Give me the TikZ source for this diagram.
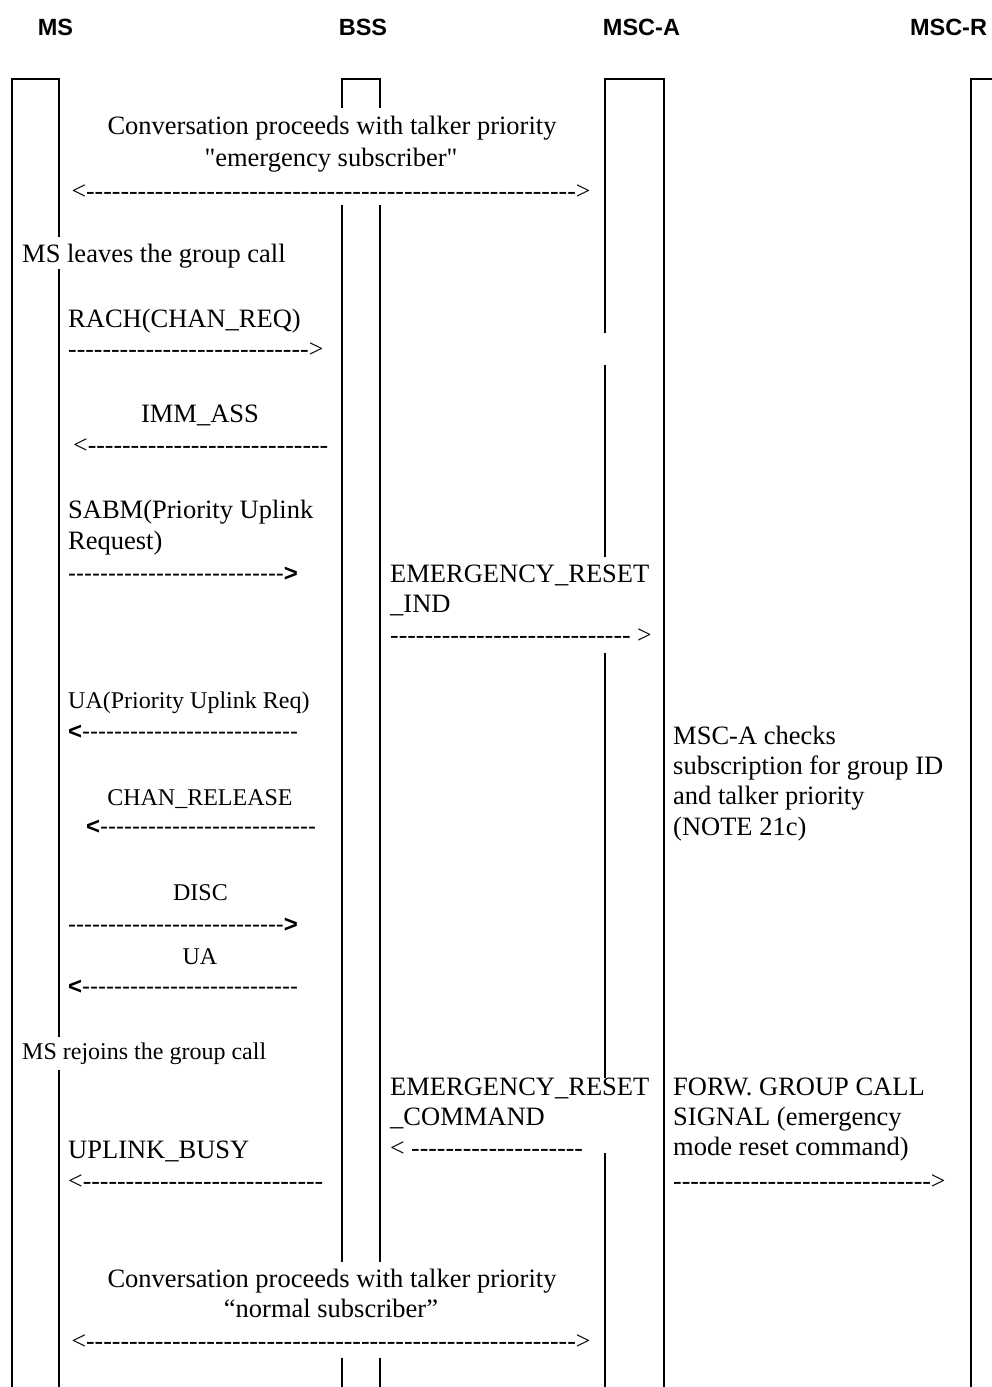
\documentclass[tikz,border=0pt]{standalone}
\usepackage{fontspec}
\setmainfont{Liberation Serif}[Ligatures=TeXOff]
\setsansfont{Liberation Sans}[Ligatures=TeXOff]
\ExplSyntaxOn
\NewDocumentCommand\hy{m}{\prg_replicate:nn{#1}{-\kern0pt}}
\ExplSyntaxOff
\tikzset{
  life/.style={line width=1.3pt, line join=miter},
  hdr/.style={font=\sffamily\bfseries\fontsize{23.5}{28}\selectfont, inner sep=0pt, anchor=base},
  lbl/.style={font=\fontsize{26.5}{31}\selectfont, inner sep=0pt, anchor=base west},
  lblc/.style={lbl, anchor=base},
  slbl/.style={font=\fontsize{24}{28}\selectfont, inner sep=0pt, anchor=base west},
  slblc/.style={slbl, anchor=base},
  msg/.style={font=\fontsize{25.8}{30}\selectfont, inner sep=0pt, anchor=base west},
  smsg/.style={font=\sffamily\fontsize{24}{28}\selectfont, inner sep=0pt, anchor=base west},
}
\begin{document}
\begin{tikzpicture}[x=1pt, y=-1pt]
\useasboundingbox (0,0) rectangle (991,1387);
% lifelines
\draw[life] (12,1390) -- (12,79) -- (59,79) -- (59,237);
\draw[life] (59,269) -- (59,1037);
\draw[life] (59,1070) -- (59,1390);
\draw[life] (342,108) -- (342,79) -- (380,79) -- (380,108);
\draw[life] (342,205) -- (342,1262);
\draw[life] (380,205) -- (380,1262);
\draw[life] (342,1358) -- (342,1390);
\draw[life] (380,1358) -- (380,1390);
\draw[life] (605,333) -- (605,79) -- (664,79) -- (664,1390);
\draw[life] (605,365) -- (605,557);
\draw[life] (605,653) -- (605,1078);
\draw[life] (605,1153) -- (605,1390);
\draw[life] (971,1390) -- (971,79) -- (995,79);
% headers
\node[hdr] (hMS) at (55.5,35) {MS};
\node[hdr] (hBSS) at (363,35) {BSS};
\node[hdr] (hA) at (641.5,35) {MSC-A};
\node[hdr] (hR) at (948.5,35) {MSC-R};
% conversation 1
\node[lblc] (c1a) at (332,134) {Conversation proceeds with talker priority};
\node[lblc] (c1b) at (331,166) {"emergency subscriber"};
\node[msg, anchor=base] (a1) at (331,199) {<\hy{57}>};
% leave
\node[lbl] (t2) at (22,262) {MS leaves the group call};
\node[lbl] (t3) at (68,327) {RACH(CHAN\_REQ)};
\node[msg] (a2) at (68,357.5) {\hy{28}>};
\node[lblc] (t4) at (200,422) {IMM\_ASS};
\node[msg] (a3) at (73,453) {<\hy{28}};
\node[lbl] (t5a) at (68,518) {SABM(Priority Uplink};
\node[lbl] (t5b) at (68,549) {Request)};
\node[smsg] (a4) at (68,581) {\hy{27}\textbf{>}};
\node[lbl] (t6a) at (390,582) {EMERGENCY\_RESET};
\node[lbl] (t6b) at (390,612) {\_IND};
\node[msg] (a5) at (390,643) {\hy{28}\ >};
\node[slbl] (t7) at (68,708) {UA(Priority Uplink Req)};
\node[smsg] (a6) at (68,739) {\textbf{<}\hy{27}};
\node[slblc] (t8) at (200,805) {CHAN\_RELEASE};
\node[smsg] (a7) at (86,834.5) {\textbf{<}\hy{27}};
\node[slblc] (t9) at (200.5,900) {DISC};
\node[smsg] (a8) at (68,932) {\hy{27}\textbf{>}};
\node[slblc] (t10) at (200,964) {UA};
\node[smsg] (a9) at (68,994.5) {\textbf{<}\hy{27}};
% MSC-A check
\node[lbl] (n1a) at (673,744) {MSC-A checks};
\node[lbl] (n1b) at (673,774) {subscription for group ID};
\node[lbl] (n1c) at (673,804) {and talker priority};
\node[lbl] (n1d) at (673,835) {(NOTE 21c)};
% rejoin
\node[slbl] (t12) at (22,1059) {MS rejoins the group call};
\node[lbl] (t13a) at (390,1095) {EMERGENCY\_RESET};
\node[lbl] (t13b) at (390,1125) {\_COMMAND};
\node[msg] (a10) at (390,1156.5) {< \hy{20}};
\node[lbl] (f1) at (673,1095) {FORW. GROUP CALL};
\node[lbl] (f2) at (673,1125) {SIGNAL (emergency};
\node[lbl] (f3) at (673,1155) {mode reset command)};
\node[msg] (a11) at (673,1189.5) {\hy{30}>};
\node[lbl] (t14) at (68,1158) {UPLINK\_BUSY};
\node[msg] (a12) at (68,1189.5) {<\hy{28}};
% conversation 2
\node[lblc] (c2a) at (332,1287) {Conversation proceeds with talker priority};
\node[lblc] (c2b) at (331,1317) {“normal subscriber”};
\node[msg, anchor=base] (a13) at (331,1349) {<\hy{57}>};
\end{tikzpicture}
\end{document}
